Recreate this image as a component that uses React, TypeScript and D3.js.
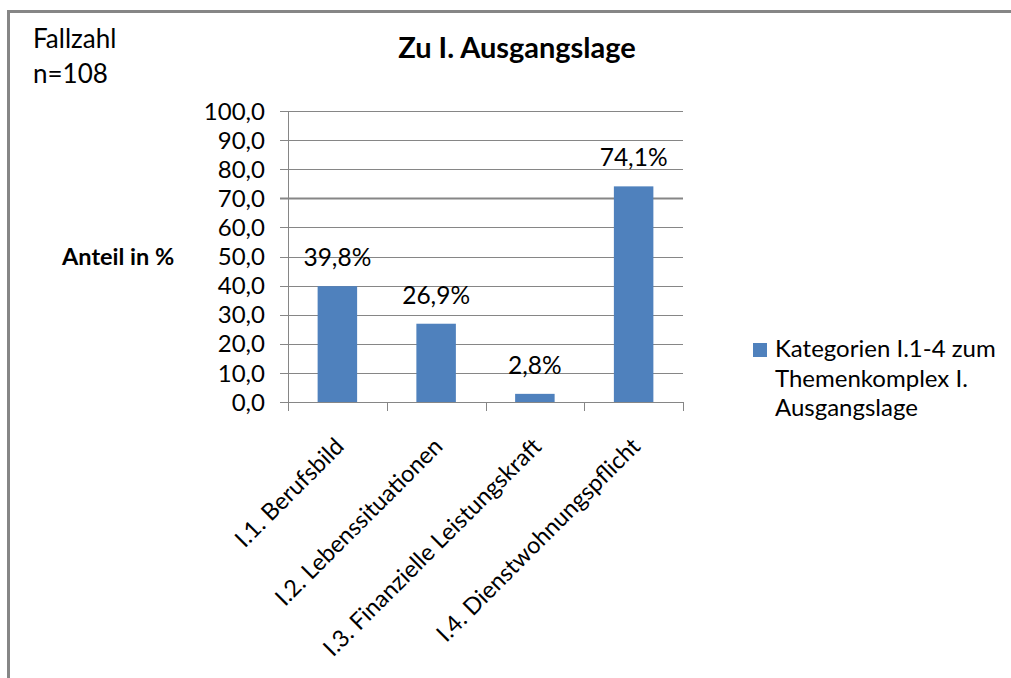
import * as d3 from 'd3';
import * as React from 'react';

const categories = [
  'I.1. Berufsbild',
  'I.2. Lebenssituationen',
  'I.3. Finanzielle Leistungskraft',
  'I.4. Dienstwohnungspflicht',
];
const values = [39.8, 26.9, 2.8, 74.1];
const yTicks = [0, 10, 20, 30, 40, 50, 60, 70, 80, 90, 100];
const legendLines = ['Kategorien I.1-4 zum', 'Themenkomplex I.', 'Ausgangslage'];

const font = 'Lato, "Open Sans", sans-serif';
const barColor = '#4f81bd';
const gridColor = '#868686';

const fmt = (v: number): string => v.toFixed(1).replace('.', ',');

const App: React.FC = () => {
  const width = 1011;
  const height = 678;
  const left = 288;
  const right = 683;
  const top = 111;
  const bottom = 402;

  const x = d3
    .scaleBand<string>()
    .domain(categories)
    .range([left, right])
    .paddingInner(0.6)
    .paddingOuter(0.3);

  const y = d3.scaleLinear().domain([0, 100]).range([bottom, top]);

  const step = x.step();
  const boundaries = d3.range(categories.length + 1).map((i) => left + i * step);

  return (
    <>
      <style>{'body{margin:0}'}</style>
      <svg width={width} height={height} style={{ display: 'block', fontFamily: font }}>
        <rect width={width} height={height} fill="#fff" />
        {/* frame: only top and left edges visible */}
        <line x1={8.5} x2={width} y1={11.5} y2={11.5} stroke={gridColor} strokeWidth={3} />
        <line x1={8.5} x2={8.5} y1={10} y2={height} stroke={gridColor} strokeWidth={3} />

        <text x={33} y={48} fontSize={26} fill="#000">Fallzahl</text>
        <text x={33} y={83} fontSize={26} fill="#000">n=108</text>

        <text x={517} y={58} fontSize={29} fontWeight="bold" textAnchor="middle" fill="#000">
          Zu I. Ausgangslage
        </text>

        <text x={62} y={265} fontSize={23.5} fontWeight="bold" fill="#000">
          Anteil in %
        </text>

        {yTicks.map((t) => (
          <g key={t}>
            <line
              x1={left - 8}
              x2={right}
              y1={Math.round(y(t)) + 0.5}
              y2={Math.round(y(t)) + 0.5}
              stroke={gridColor}
              strokeWidth={t === 70 ? 2 : 1}
            />
            <text
              x={265}
              y={y(t)}
              dy="0.36em"
              fontSize={24}
              textAnchor="end"
              fill="#000"
            >
              {fmt(t)}
            </text>
          </g>
        ))}

        <line x1={left + 0.5} x2={left + 0.5} y1={top} y2={bottom} stroke={gridColor} />
        {boundaries.map((bx, i) => (
          <line
            key={i}
            x1={Math.round(bx) + 0.5}
            x2={Math.round(bx) + 0.5}
            y1={bottom}
            y2={bottom + 9}
            stroke={gridColor}
          />
        ))}

        {categories.map((c, i) => (
          <g key={c}>
            <rect
              x={x(c)}
              y={y(values[i])}
              width={x.bandwidth()}
              height={bottom - y(values[i])}
              fill={barColor}
            />
            <text
              x={(x(c) ?? 0) + x.bandwidth() / 2}
              y={y(values[i]) - 20}
              fontSize={24.5}
              textAnchor="middle"
              fill="#000"
            >
              {fmt(values[i])}%
            </text>
            <text
              transform={`translate(${(x(c) ?? 0) + x.bandwidth() / 2 + 8},${bottom + 46}) rotate(-45)`}
              fontSize={23.5}
              textAnchor="end"
              fill="#000"
            >
              {c}
            </text>
          </g>
        ))}

        <rect x={753} y={343} width={14} height={14} fill={barColor} />
        {legendLines.map((l, i) => (
          <text key={l} x={775} y={357 + i * 29.5} fontSize={24} fill="#000">
            {l}
          </text>
        ))}
      </svg>
    </>
  );
};

export default App;
